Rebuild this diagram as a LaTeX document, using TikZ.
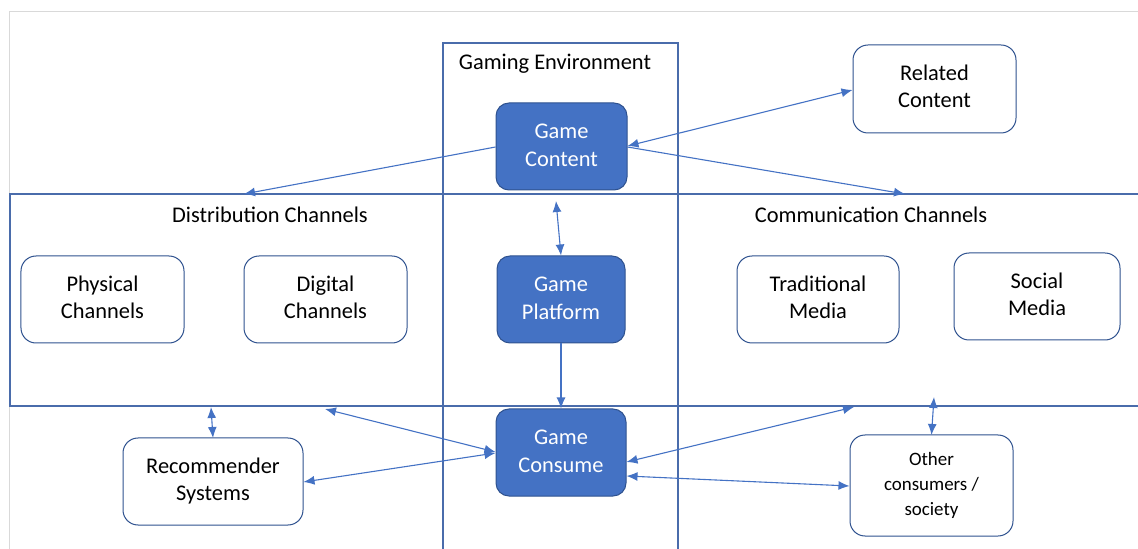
\documentclass[tikz,border=0pt]{standalone}
\usepackage{fontspec}
\setmainfont{Carlito}
\usetikzlibrary{arrows.meta}
\definecolor{fillblue}{HTML}{4472C4}
\definecolor{edgeblue}{HTML}{2F528F}
\definecolor{frameblue}{HTML}{4A6CAB}
\definecolor{gridgray}{HTML}{D9D9D9}
\newcommand\boxtext[2][3.5bp]{\raisebox{#1}{\begin{tabular}{@{}c@{}}#2\end{tabular}}}
\tikzset{
  darkbox/.style={draw=edgeblue, fill=fillblue, line width=1bp, rounded corners=13bp, text=white, font=\fontsize{22.5}{28}\selectfont, inner sep=0pt},
  lightbox/.style={draw=edgeblue, fill=white, line width=1bp, rounded corners=15bp, text=black, font=\fontsize{22.5}{27}\selectfont, inner sep=0pt},
  frame/.style={draw=frameblue, line width=1.3bp},
  conn/.style={draw=fillblue, line width=1.1bp, -{Latex[length=11bp,width=9bp]}},
  dconn/.style={draw=fillblue, line width=1.1bp, {Latex[length=11bp,width=9bp]}-{Latex[length=11bp,width=9bp]}},
  lbl/.style={font=\fontsize{22.5}{26}\selectfont, inner sep=0pt}
}
\begin{document}
\begin{tikzpicture}[x=1bp,y=-1bp]
\useasboundingbox (0,0) rectangle (1138,549);
% faint spreadsheet grid border
\draw[gridgray, line width=1bp] (9,549) -- (9,12) -- (1138,12);
% containers
\draw[frame] (443,549) -- (443,43) -- (678,43) -- (678,549);
\draw[frame] (1138,194) -- (10,194) -- (10,406) -- (1138,406);
\node[lbl] (genv) at (555,64) {Gaming Environment};
\node[lbl] (dist) at (270,215) {Distribution Channels};
\node[lbl] (comm) at (871,215) {Communication Channels};
% dark nodes
\node[darkbox, minimum width=131bp, minimum height=87bp] (gc) at (561.5,146.5) {\boxtext{Game\\Content}};
\node[darkbox, minimum width=128bp, minimum height=87bp] (gp) at (561,299.5) {\boxtext{Game\\Platform}};
\node[darkbox, minimum width=130bp, minimum height=87bp] (gcs) at (561,452.5) {\boxtext{Game\\Consume}};
% light nodes
\node[lightbox, minimum width=163bp, minimum height=88bp] (rc) at (934.5,89) {\boxtext{Related\\Content}};
\node[lightbox, minimum width=163bp, minimum height=87bp] (pc) at (102.5,299.5) {\boxtext{Physical\\Channels}};
\node[lightbox, minimum width=163bp, minimum height=87bp] (dc) at (325.5,299.5) {\boxtext{Digital\\Channels}};
\node[lightbox, minimum width=162bp, minimum height=87bp] (tm) at (818,299.5) {\boxtext{Traditional\\Media}};
\node[lightbox, minimum width=166bp, minimum height=87bp] (sm) at (1037,296.5) {\boxtext{Social\\Media}};
\node[lightbox, minimum width=180bp, minimum height=87bp] (rs) at (213,481.5) {\boxtext[2.5bp]{Recommender\\Systems}};
\node[lightbox, minimum width=163bp, minimum height=101bp, font=\fontsize{19}{25}\selectfont] (oc) at (931.5,485.5) {\boxtext[1bp]{Other\\consumers /\\society}};
% free ends on container edges
\coordinate (distTop) at (244,194);
\coordinate (commTop) at (905,194);
\coordinate (platUp) at (556,201);
\coordinate (distBotA) at (211,407);
\coordinate (distBotB) at (325,409);
\coordinate (commBotA) at (854,407);
\coordinate (commBotB) at (934,397);
% connectors
\draw[conn] (gc.west |- 0,147) -- (distTop);
\draw[dconn] (gc.east |- 0,146) -- (rc.west |- 0,90);
\draw[conn] (gc.east |- 0,147) -- (commTop);
\draw[dconn] (platUp) -- (gp.north);
\draw[conn] (gp.south) -- (gcs.north);
\draw[dconn] (gcs.west |- 0,452) -- (distBotB);
\draw[dconn] (gcs.west |- 0,453) -- (rs.east |- 0,482);
\draw[dconn] (rs.north |- 0,438) -- (distBotA);
\draw[dconn] (gcs.east |- 0,462) -- (commBotA);
\draw[dconn] (gcs.east |- 0,476) -- (oc.west |- 0,486);
\draw[dconn] (oc.north |- 0,435) -- (commBotB);
\end{tikzpicture}
\end{document}
